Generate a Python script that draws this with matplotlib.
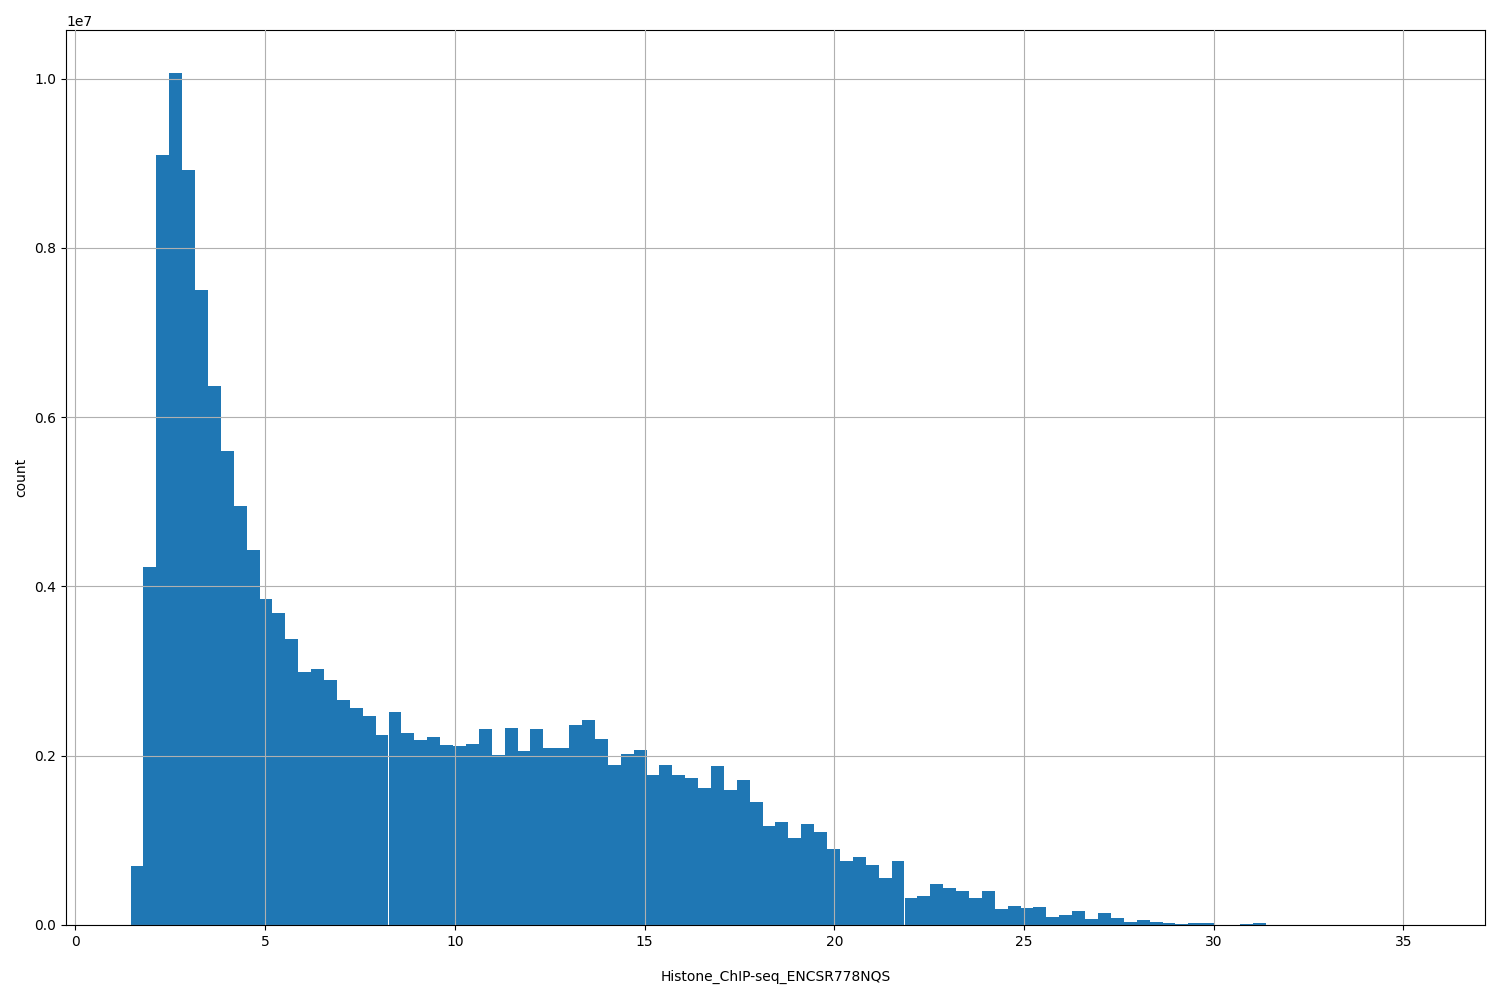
import numpy as np
import matplotlib.pyplot as plt

# bar heights in millions, 100 equal bins from 1.45 to 35.45
counts_m = [0.7, 4.23, 9.1, 10.07, 8.92, 7.5, 6.37, 5.6, 4.95, 4.43,
            3.85, 3.69, 3.38, 2.99, 3.03, 2.9, 2.66, 2.56, 2.47, 2.24,
            2.52, 2.27, 2.19, 2.22, 2.13, 2.11, 2.14, 2.32, 2.01, 2.33,
            2.05, 2.32, 2.09, 2.09, 2.36, 2.42, 2.2, 1.89, 2.02, 2.07,
            1.77, 1.89, 1.77, 1.74, 1.62, 1.88, 1.6, 1.71, 1.45, 1.17,
            1.22, 1.03, 1.19, 1.1, 0.9, 0.76, 0.8, 0.71, 0.55, 0.76,
            0.32, 0.34, 0.49, 0.44, 0.4, 0.32, 0.4, 0.19, 0.23, 0.2,
            0.21, 0.09, 0.12, 0.17, 0.07, 0.14, 0.08, 0.03, 0.06, 0.04,
            0.02, 0.01, 0.02, 0.02, 0.0, 0.0, 0.01, 0.02, 0.003, 0.002,
            0.002, 0.002, 0.001, 0.001, 0.001, 0.001, 0.001, 0.001, 0.001, 0.001]
x_min, x_max = 1.45, 35.45

edges = np.linspace(x_min, x_max, len(counts_m) + 1)
centers = (edges[:-1] + edges[1:]) / 2
weights = np.array(counts_m) * 1e6

fig, ax = plt.subplots(figsize=(15, 10), dpi=100)
ax.hist(centers, bins=edges, weights=weights, color='#1f77b4')
ax.grid(True)
ax.set_axisbelow(False)
ax.set_xlabel('Histone_ChIP-seq_ENCSR778NQS', labelpad=15)
ax.set_ylabel('count')
plt.subplots_adjust(left=0.044, right=0.99, top=0.97, bottom=0.075)
plt.savefig('out.png')
